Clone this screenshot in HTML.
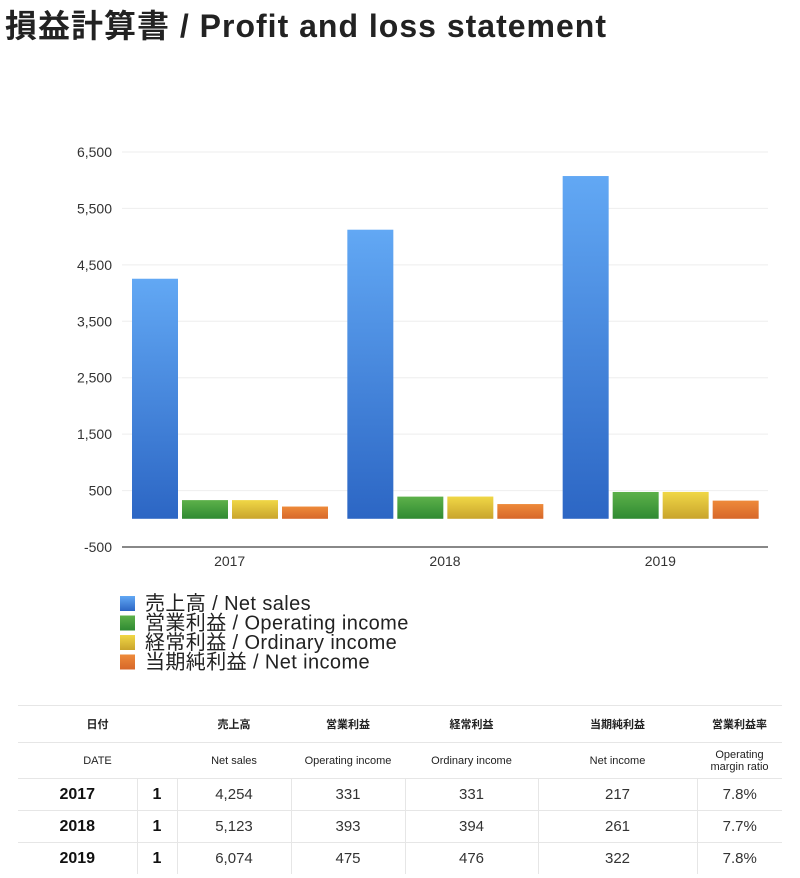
<!DOCTYPE html>
<html><head><meta charset="utf-8"><style>
body{margin:0;width:800px;height:878px;background:#fff;font-family:"Liberation Sans","Noto Sans CJK JP",sans-serif;position:relative;overflow:hidden}
.t{position:absolute;white-space:nowrap}
table{position:absolute;left:18px;top:705px;width:764px;border-collapse:collapse;table-layout:fixed}
td{text-align:center;border-top:1px solid #e6e6e6;padding:0;color:#222}
.h td{font-size:11px;font-weight:bold;height:36px}
.h2 td{font-size:11px;height:35px;border-top:1px solid #e6e6e6}
.d td{font-size:15px;height:31px;color:#333}
.d td.y{font-weight:bold;font-size:16px;color:#111}
.d td+td{border-left:1px solid #e6e6e6}
</style></head><body>
<div class="t" style="left:5px;top:1px;font-size:32px;letter-spacing:1px;font-weight:bold;color:#222">損益計算書 / Profit and loss statement</div>
<svg id="chart" width="800" height="690" style="position:absolute;left:0;top:0">
<defs>
<linearGradient id="gb" x1="0" y1="0" x2="0" y2="1"><stop offset="0" stop-color="#62a8f4"/><stop offset="1" stop-color="#2c66c4"/></linearGradient>
<linearGradient id="gg" x1="0" y1="0" x2="0" y2="1"><stop offset="0" stop-color="#5db14a"/><stop offset="1" stop-color="#2f8a32"/></linearGradient>
<linearGradient id="gy" x1="0" y1="0" x2="0" y2="1"><stop offset="0" stop-color="#f0d746"/><stop offset="1" stop-color="#c9a42c"/></linearGradient>
<linearGradient id="go" x1="0" y1="0" x2="0" y2="1"><stop offset="0" stop-color="#ee8a3a"/><stop offset="1" stop-color="#d7672a"/></linearGradient>
</defs>
</svg>
<table>
<colgroup><col style="width:119px"><col style="width:40px"><col style="width:114px"><col style="width:114px"><col style="width:133px"><col style="width:159px"><col style="width:85px"></colgroup>
<tr class="h"><td colspan="2">日付</td><td>売上高</td><td>営業利益</td><td>経常利益</td><td>当期純利益</td><td>営業利益率</td></tr>
<tr class="h2"><td colspan="2">DATE</td><td>Net sales</td><td>Operating income</td><td>Ordinary income</td><td>Net income</td><td>Operating<br>margin ratio</td></tr>
<tr class="d"><td class="y">2017</td><td class="y">1</td><td>4,254</td><td>331</td><td>331</td><td>217</td><td>7.8%</td></tr>
<tr class="d"><td class="y">2018</td><td class="y">1</td><td>5,123</td><td>393</td><td>394</td><td>261</td><td>7.7%</td></tr>
<tr class="d"><td class="y">2019</td><td class="y">1</td><td>6,074</td><td>475</td><td>476</td><td>322</td><td>7.8%</td></tr>
</table>
<script>
const categories=["2017","2018","2019"];
const netSales=[4254,5123,6074];
const operatingIncome=[331,393,475];
const ordinaryIncome=[331,394,476];
const netIncome=[217,261,322];
const yTicks=[-500,500,1500,2500,3500,4500,5500,6500];
const seriesNames=["売上高 / Net sales","営業利益 / Operating income","経常利益 / Ordinary income","当期純利益 / Net income"];
const NS="http://www.w3.org/2000/svg",svg=document.getElementById('chart');
const L=122,R=768,T=152,B=547,ymin=-500,ymax=6500;
const y=v=>B-(v-ymin)/(ymax-ymin)*(B-T);
const gw=(R-L)/categories.length;
function mk(t,a){const e=document.createElementNS(NS,t);for(const k in a)e.setAttribute(k,a[k]);svg.appendChild(e);return e;}
yTicks.forEach(v=>{
 if(v!==ymin){const g=mk('line',{x1:L,x2:R,y1:y(v),y2:y(v),stroke:'#eeeeee'});}
 const t=mk('text',{x:112,y:y(v)+5,'text-anchor':'end','font-size':14,fill:'#333'});t.textContent=v.toLocaleString('en-US');
 
});
const ax=mk('line',{x1:L,x2:R,y1:B,y2:B,stroke:'#888','stroke-width':2});
const series=[netSales,operatingIncome,ordinaryIncome,netIncome],fills=['url(#gb)','url(#gg)','url(#gy)','url(#go)'];
categories.forEach((c,i)=>{
 const x0=L+gw*i+10;
 series.forEach((s,j)=>{
  const r=mk('rect',{x:x0+j*50,width:46,y:y(s[i]),height:y(0)-y(s[i]),fill:fills[j]});
  
 });
 const t=mk('text',{x:L+gw*(i+0.5),y:566,'text-anchor':'middle','font-size':14,fill:'#333'});t.textContent=c;
 
});
seriesNames.forEach((n,j)=>{
 const yy=596+j*19.5;
 const r=mk('rect',{x:120,y:yy,width:15,height:15,fill:fills[j]});
 const t=mk('text',{x:145,y:yy+14,'font-size':20,'letter-spacing':0.4,fill:'#222'});t.textContent=n;
 
});
</script>
</body></html>
